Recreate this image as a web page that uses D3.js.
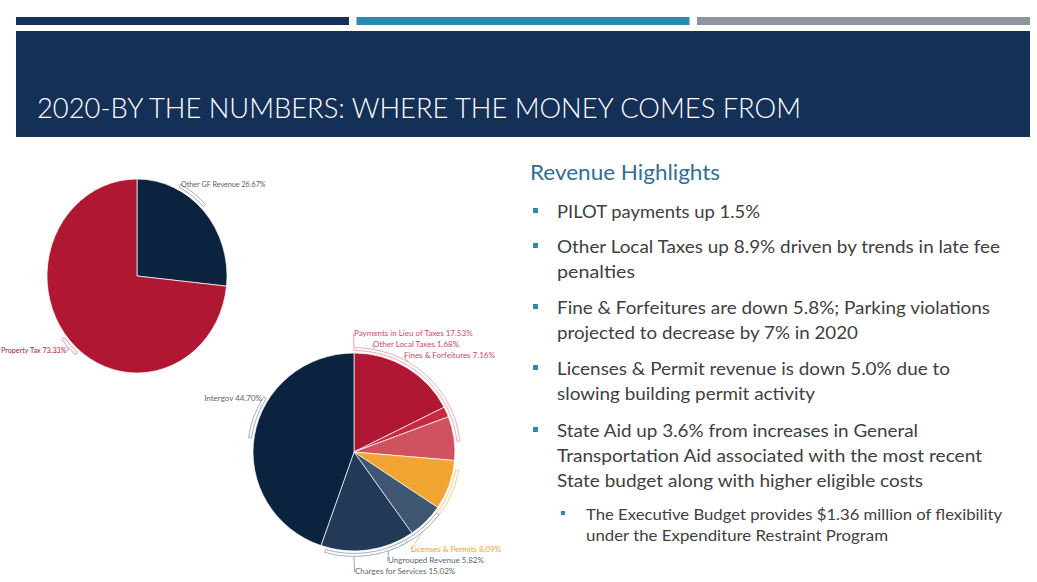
<!DOCTYPE html>
<html>
<head>
<meta charset="utf-8">
<script src="https://cdn.jsdelivr.net/npm/d3@7/dist/d3.min.js"></script>
<style>
  html, body { margin: 0; padding: 0; background: #fff; }
  svg { display: block; font-family: Lato, "Open Sans", sans-serif; }
</style>
</head>
<body>
<script>
// ---- data ----
const gfNames = ["Other GF Revenue", "Property Tax"];
const gfValues = [26.67, 73.33];

const revNames = ["Payments in Lieu of Taxes", "Other Local Taxes", "Fines & Forfeitures",
                  "Licenses & Permits", "Ungrouped Revenue", "Charges for Services", "Intergov"];
const revValues = [17.53, 1.68, 7.16, 8.09, 5.82, 15.02, 44.70];

const titleText = "2020-BY THE NUMBERS: WHERE THE MONEY COMES FROM";
const highlightsTitle = "Revenue Highlights";
const bulletLines = [
  ["PILOT payments up 1.5%"],
  ["Other Local Taxes up 8.9% driven by trends in late fee", "penalties"],
  ["Fine & Forfeitures are down 5.8%; Parking violations", "projected to decrease by 7% in 2020"],
  ["Licenses & Permit revenue is down 5.0% due to", "slowing building permit activity"],
  ["State Aid up 3.6% from increases in General", "Transportation Aid associated with the most recent",
   "State budget along with higher eligible costs"]
];
const subBulletLines = ["The Executive Budget provides $1.36 million of flexibility",
                        "under the Expenditure Restraint Program"];

// ---- layout / style (not data) ----
const gfColors = ["#0c2340", "#b01733"];
const revColors = ["#b01733", "#c62a42", "#d0525f", "#f2a531", "#3f5770", "#223a57", "#0c2340"];

// label layout: x,y of label, anchor, attach angle (deg), band [from,to] (deg), colour
const gfLabelLayout = [
  {x: 181, y: 187, anchor: "start", attach: 27, band: [27, 46], color: "#5b6068", band_c: "#9aa3ad"},
  {x: 1,   y: 353, anchor: "start", attach: 226, band: [220, 232], color: "#b01a38", band_c: "#d98a98"}
];
const revLabelLayout = [
  {x: 354, y: 336, anchor: "start", attach: 0,   band: [0, 84],    color: "#cc4a62", band_c: "#e8a2ad"},
  {x: 373, y: 347, anchor: "start", attach: 11,  band: null,       color: "#cc4a62", band_c: "#e8a2ad"},
  {x: 404, y: 358, anchor: "start", attach: 31,  band: null,       color: "#cc4a62", band_c: "#e8a2ad"},
  {x: 411, y: 552, anchor: "start", attach: 140, band: [100, 140], color: "#f0a02e", band_c: "#f6c67c"},
  {x: 388, y: 563, anchor: "start", attach: 161, band: [127, 161], color: "#5a6470", band_c: "#9aa6b4"},
  {x: 355, y: 574, anchor: "start", attach: 180, band: [150, 196], color: "#5a6470", band_c: "#9aa6b4"},
  {x: 262, y: 401, anchor: "end",   attach: 301, band: [278, 302], color: "#5a6470", band_c: "#9aa6b4"}
];

const W = 1037, H = 582;
const svg = d3.select("body").append("svg").attr("width", W).attr("height", H);

// ---- header ----
const barColors = ["#16305a", "#2e88b0", "#8c959d"];
const barX = d3.scaleBand().domain([0, 1, 2]).range([16, 1030]).paddingInner(0.022);
svg.selectAll("rect.topbar").data(barColors).enter().append("rect")
  .attr("class", "topbar")
  .attr("x", (d, i) => barX(i)).attr("y", 17)
  .attr("width", barX.bandwidth()).attr("height", 8)
  .attr("fill", d => d);

svg.append("rect").attr("x", 16).attr("y", 31).attr("width", 1014).attr("height", 106)
  .attr("fill", "#153057");
svg.append("text").attr("x", 37).attr("y", 118)
  .attr("font-size", 28).attr("font-weight", 300).attr("fill", "#fff")
  .attr("textLength", 764).attr("lengthAdjust", "spacingAndGlyphs")
  .text(titleText);

// ---- pies ----
function drawPie(cx, cy, rx, ry, values, names, colors, layout, fontSize) {
  const g = svg.append("g").attr("transform", `translate(${cx},${cy})`);
  const inner = g.append("g").attr("transform", `scale(1,${ry / rx})`);
  const pie = d3.pie().sort(null).value(d => d)(values);
  const arc = d3.arc().innerRadius(0).outerRadius(rx);
  inner.selectAll("path.slice").data(pie).enter().append("path")
    .attr("class", "slice")
    .attr("d", arc)
    .attr("fill", (d, i) => colors[i])
    .attr("stroke", "#fff").attr("stroke-width", 0.7)
    .attr("vector-effect", "non-scaling-stroke");

  const rad = a => a * Math.PI / 180;
  const band = d3.arc().innerRadius(rx + 2.5).outerRadius(rx + 5.5);
  layout.forEach(l => {
    if (l.band) {
      inner.append("path")
        .attr("d", band({startAngle: rad(l.band[0]), endAngle: rad(l.band[1])}))
        .attr("fill", "#fff").attr("stroke", l.band_c).attr("stroke-width", 0.9)
        .attr("vector-effect", "non-scaling-stroke");
    }
  });
  layout.forEach((l, i) => {
    const a = rad(l.attach);
    const px = cx + (rx + 5.5) * Math.sin(a);
    const py = cy - (rx + 5.5) * Math.cos(a) * (ry / rx);
    const label = svg.append("text")
      .attr("x", l.x).attr("y", l.y)
      .attr("text-anchor", l.anchor)
      .attr("font-size", fontSize).attr("fill", l.color)
      .text(`${names[i]} ${values[i].toFixed(2)}%`);
    const bb = label.node().getBBox();
    // leader from the label edge nearest the pie
    const lx = (px >= bb.x + bb.width) ? bb.x + bb.width + 0.5 : bb.x - 0.5;
    const ly = l.y - 2;
    svg.insert("path", "text")
      .attr("d", d3.line()([[lx, ly], [px, py]]))
      .attr("fill", "none").attr("stroke", l.band_c).attr("stroke-width", 1);
  });
}

drawPie(137, 276, 90, 97, gfValues, gfNames, gfColors, gfLabelLayout, 7.2);
drawPie(354, 452, 101, 99, revValues, revNames, revColors, revLabelLayout, 8);

// ---- highlights text ----
svg.append("text").attr("x", 530).attr("y", 180)
  .attr("font-size", 21).attr("fill", "#2f6f95")
  .attr("textLength", 190).attr("lengthAdjust", "spacingAndGlyphs")
  .text(highlightsTitle);

const lineWidths = [[203], [443, 78], [433, 301], [393, 258], [361, 425, 366]];
const bulletStarts = [218, 253, 314, 375, 437];
const lineGap = 25;

bulletLines.forEach((lines, bi) => {
  const y0 = bulletStarts[bi];
  svg.append("rect").attr("x", 533).attr("y", y0 - 10).attr("width", 5).attr("height", 5)
    .attr("fill", "#2e88b0");
  lines.forEach((t, li) => {
    svg.append("text").attr("x", 557).attr("y", y0 + li * lineGap)
      .attr("font-size", 17.5).attr("fill", "#404040")
      .attr("textLength", lineWidths[bi][li]).attr("lengthAdjust", "spacingAndGlyphs")
      .text(t);
  });
});

const subWidths = [416, 302];
svg.append("rect").attr("x", 561).attr("y", 511).attr("width", 4).attr("height", 4)
  .attr("fill", "#2e88b0");
subBulletLines.forEach((t, li) => {
  svg.append("text").attr("x", 586).attr("y", 520 + li * 21)
    .attr("font-size", 14.5).attr("fill", "#404040")
    .attr("textLength", subWidths[li]).attr("lengthAdjust", "spacingAndGlyphs")
    .text(t);
});
</script>
</body>
</html>
